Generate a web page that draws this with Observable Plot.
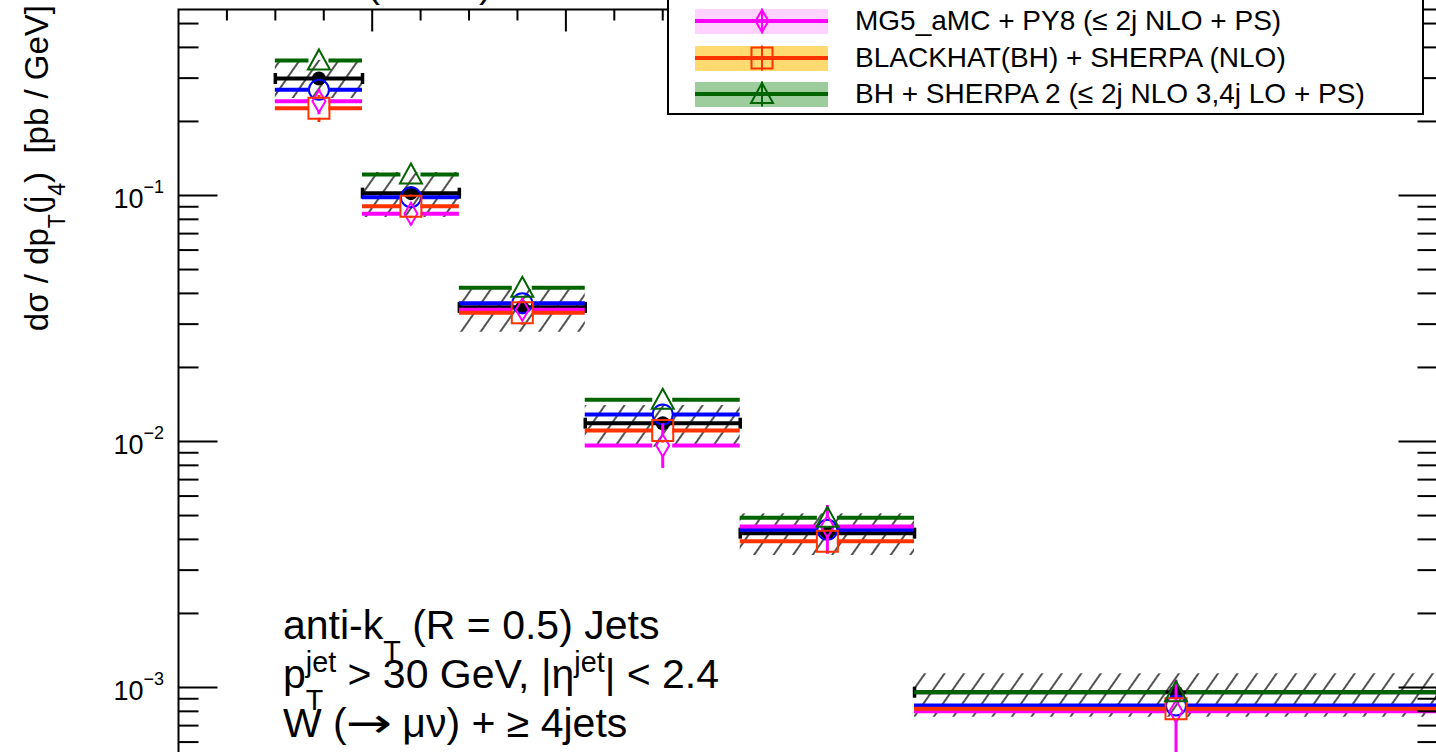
<!DOCTYPE html>
<html><head><meta charset="utf-8">
<script src="https://cdn.jsdelivr.net/npm/d3@7"></script>
<script src="https://cdn.jsdelivr.net/npm/@observablehq/plot@0.6"></script>
<style>
html,body{margin:0;padding:0;background:#fff;}
#wrap{position:relative;width:1436px;height:752px;overflow:hidden;font-family:"Liberation Sans",Arial,Helvetica,sans-serif;color:#000;}
.txt{position:absolute;white-space:nowrap;}
.txt sub,.txt sup{font-size:0.7em;line-height:0;}
.txt sup{vertical-align:0.55em;}
.txt sub{vertical-align:-0.75em;}
.arrow{font-family:"DejaVu Sans",sans-serif;display:inline-block;transform:scaleX(1.35);margin:0 0.12em;line-height:0;}
.legendbox{position:absolute;background:#fff;border:2px solid #000;box-sizing:border-box;}
.swatch{position:absolute;}
.swline{position:absolute;left:0;right:0;}
</style></head>
<body><div id="wrap"></div>
<script>
// ---- bins (pT of 4th jet, GeV) ----
const binLo = [30, 39, 49, 62, 78, 96];
const binHi = [39, 49, 62, 78, 96, 150];

// ---- data (black) and its total-uncertainty band (hatched) ----
const dataVal    = [0.299, 0.1022, 0.0351, 0.01187, 0.00424, 0.000957];
const dataBandLo = [0.248, 0.0814, 0.0278, 0.00948, 0.00344, 0.000757];
const dataBandHi = [0.354, 0.124,  0.0414, 0.0140,  0.00508, 0.001137];

// ---- predictions ----
const mgLO   = [0.269, 0.0984, 0.0365, 0.01288, 0.004375, 0.000845];   // blue
const mgNLO  = [0.2416, 0.0843, 0.0343, 0.00963, 0.004512, 0.000801];  // magenta
const mgNLOLo = [0.213, 0.0755, 0.0310, 0.00777, 0.00348, 0.00045];
const mgNLOHi = [0.270, 0.093,  0.0380, 0.0118,  0.00549, 0.00107];
const bh     = [0.2264, 0.0905, 0.03335, 0.01108, 0.003932, 0.000819]; // orange-red
const bhLo   = [0.198, 0.0805, 0.0297, 0.00985, 0.00350, null];
const bhHi   = [0.255, 0.1005, 0.0370, 0.0123,  0.00435, null];
const bhS2   = [0.354, 0.1217, 0.04215, 0.01477, 0.004895, 0.000957];  // dark green

// ---- axis ticks ----
const yMajorTicks = [1e-1, 1e-2, 1e-3];
const yTickExp = ["\u22121", "\u22122", "\u22123"];
const yMinorTicks = [0.5, 0.4, 0.3, 0.2,
  0.09, 0.08, 0.07, 0.06, 0.05, 0.04, 0.03, 0.02,
  0.009, 0.008, 0.007, 0.006, 0.005, 0.004, 0.003, 0.002,
  0.0009, 0.0008, 0.0007, 0.0006];
const xMajorTicks = [40, 60, 80, 100, 120, 140];
const xMinorTicks = [25, 30, 35, 45, 50, 55, 65, 70, 75, 85, 90, 95, 105, 110, 115, 125, 130, 135, 145];

// ---- legend text (visible rows) ----
const legendLabels = ["MG5_aMC + PY8 (\u2264 2j NLO + PS)", "BLACKHAT(BH) + SHERPA (NLO)", "BH + SHERPA 2 (\u2264 2j NLO 3,4j LO + PS)"];

// ---------------------------------------------------------------
const FONT = "Liberation Sans, Arial, Helvetica, sans-serif";
const circleSym   = {draw(c){ c.moveTo(10,0); c.arc(0,0,10,0,2*Math.PI); }};
const diamondSym  = {draw(c){ c.moveTo(0,-11); c.lineTo(6.5,0); c.lineTo(0,11); c.lineTo(-6.5,0); c.closePath(); }};
const squareSym   = {draw(c){ c.rect(-10.5,-10.5,21,21); }};
const triangleSym = {draw(c){ c.moveTo(0,-11); c.lineTo(11,9); c.lineTo(-11,9); c.closePath(); }};
const capSym      = {draw(c){ c.moveTo(0,-5.5); c.lineTo(0,5.5); }};
const tickR = L => ({draw(c){ c.moveTo(0,0); c.lineTo(L,0); }});
const tickL = L => ({draw(c){ c.moveTo(0,0); c.lineTo(-L,0); }});
const tickD = L => ({draw(c){ c.moveTo(0,0); c.lineTo(0,L); }});

const rows = binLo.map((lo, i) => ({
  lo, hi: binHi[i], mid: (lo + binHi[i]) / 2,
  data: dataVal[i], bandLo: dataBandLo[i], bandHi: dataBandHi[i]
}));

const series = [
  {values: mgLO,  color: "#0000ff", symbol: circleSym},
  {values: mgNLO, lo: mgNLOLo, hi: mgNLOHi, color: "#ff00ff", symbol: diamondSym},
  {values: bh,    lo: bhLo, hi: bhHi, color: "#ff3300", symbol: squareSym},
  {values: bhS2,  color: "#006400", symbol: triangleSym}
].map(s => ({...s, rows: binLo.map((lo, i) => ({
  lo, hi: binHi[i], mid: (lo + binHi[i]) / 2, v: s.values[i],
  eLo: s.lo ? s.lo[i] : null, eHi: s.hi ? s.hi[i] : null
}))}));

const GAP = 10;
const marks = [];
marks.push(Plot.rect(rows, {x1: "lo", x2: "hi", y1: "bandLo", y2: "bandHi", fill: "url(#hatch)"}));
marks.push(Plot.ruleY(rows, {x1: "lo", x2: "hi", y: "data", stroke: "#000", strokeWidth: 4}));
marks.push(Plot.dot(rows, {x: "lo", y: "data", symbol: capSym, stroke: "#000", strokeWidth: 3.5, fill: "none"}));
marks.push(Plot.dot(rows, {x: "hi", y: "data", symbol: capSym, stroke: "#000", strokeWidth: 3.5, fill: "none"}));
for (const s of series) {
  marks.push(Plot.ruleY(s.rows, {x1: "lo", x2: "mid", y: "v", insetRight: GAP, stroke: s.color, strokeWidth: 4}));
  marks.push(Plot.ruleY(s.rows, {x1: "mid", x2: "hi", y: "v", insetLeft: GAP, stroke: s.color, strokeWidth: 4}));
}
marks.push(Plot.dot(rows, {x: "mid", y: "data", r: 7, fill: "#000", stroke: "none"}));
for (const s of series) {
  const er = s.rows.filter(d => d.eLo != null);
  if (er.length) {
    marks.push(Plot.ruleX(er, {x: "mid", y1: "v", y2: "eLo", insetTop: GAP, stroke: s.color, strokeWidth: 3}));
    marks.push(Plot.ruleX(er, {x: "mid", y1: "eHi", y2: "v", insetBottom: GAP, stroke: s.color, strokeWidth: 3}));
  }
  marks.push(Plot.dot(s.rows, {x: "mid", y: "v", symbol: s.symbol, stroke: s.color, strokeWidth: 2, fill: "none"}));
}
marks.push(Plot.frame({stroke: "#000", strokeWidth: 2}));
marks.push(Plot.dot(yMajorTicks, {y: d => d, frameAnchor: "left", symbol: tickR(39), stroke: "#000", strokeWidth: 2, fill: "none"}));
marks.push(Plot.dot(yMinorTicks, {y: d => d, frameAnchor: "left", symbol: tickR(20), stroke: "#000", strokeWidth: 2, fill: "none"}));
marks.push(Plot.dot(yMajorTicks, {y: d => d, frameAnchor: "right", symbol: tickL(39), stroke: "#000", strokeWidth: 2, fill: "none"}));
marks.push(Plot.dot(yMinorTicks, {y: d => d, frameAnchor: "right", symbol: tickL(20), stroke: "#000", strokeWidth: 2, fill: "none"}));
marks.push(Plot.dot(xMajorTicks, {x: d => d, frameAnchor: "top", symbol: tickD(22), stroke: "#000", strokeWidth: 2, fill: "none"}));
marks.push(Plot.dot(xMinorTicks, {x: d => d, frameAnchor: "top", symbol: tickD(11), stroke: "#000", strokeWidth: 2, fill: "none"}));
marks.push(Plot.text(yMajorTicks, {y: d => d, frameAnchor: "left", text: () => "10", textAnchor: "end", dx: -35, dy: 4, fontSize: 27, fontFamily: FONT, fill: "#000"}));
marks.push(Plot.text(yMajorTicks, {y: d => d, frameAnchor: "left", text: (d, i) => yTickExp[i], textAnchor: "start", dx: -35, dy: -8, fontSize: 18, fontFamily: FONT, fill: "#000"}));

const chart = Plot.plot({
  width: 1436, height: 752,
  marginLeft: 178, marginRight: -1, marginTop: 9, marginBottom: -60,
  x: {domain: [20, 150], range: [178, 1437], axis: null},
  y: {type: "log", domain: [1e-3, 1e-1], range: [687, 195], axis: null},
  style: {fontFamily: FONT, background: "#fff", overflow: "visible"},
  marks
});

const defs = d3.select(chart).insert("defs", ":first-child");
const pat = defs.append("pattern").attr("id", "hatch").attr("patternUnits", "userSpaceOnUse")
  .attr("width", 16).attr("height", 16).attr("patternTransform", "rotate(35)");
pat.append("line").attr("x1", 8).attr("y1", -2).attr("x2", 8).attr("y2", 18)
  .attr("stroke", "#333").attr("stroke-width", 1.7);

const wrap = document.getElementById("wrap");
chart.style.position = "absolute"; chart.style.left = "0px"; chart.style.top = "0px";
wrap.appendChild(chart);

function addText(html, css) {
  const d = document.createElement("div");
  d.className = "txt";
  d.innerHTML = html;
  Object.assign(d.style, css);
  wrap.appendChild(d);
  return d;
}

// partially visible header above the frame
addText("(8 TeV)", {left: "367px", top: "-36px", fontSize: "39px", lineHeight: "39px"});

// y-axis title (rotated)
addText("d\u03c3 / dp<sub>T</sub>(j<sub>4</sub>)&nbsp;&nbsp;[pb / GeV]", {
  left: "20px", top: "405px", width: "400px", textAlign: "right", fontSize: "33px", lineHeight: "33px",
  transformOrigin: "0 0", transform: "rotate(-90deg)"
});

// annotation
const annFS = 41;
const annBase = [640, 689, 738];
const annLines = [
  "anti-k<sub>T</sub> (R = 0.5) Jets",
  "p<span class='stk'><sup>jet</sup><sub>T</sub></span> &gt; 30 GeV, |\u03b7<sup>jet</sup>| &lt; 2.4",
  "W (<span class='arrow'>\u2192</span> \u03bc\u03bd) + \u2265 4jets"
];
annLines.forEach((h, i) => addText(h, {left: "283px", top: (annBase[i] - 0.8465 * annFS) + "px", fontSize: annFS + "px", lineHeight: annFS + "px"}));
document.querySelectorAll(".stk").forEach(st => {
  const sp = st.querySelector("sup"), sb = st.querySelector("sub");
  const w1 = sp.getBoundingClientRect().width, w2 = sb.getBoundingClientRect().width;
  sb.style.marginLeft = (-w1) + "px";
  if (w1 > w2) sb.style.marginRight = (w1 - w2) + "px";
});

// legend
const lb = document.createElement("div");
lb.className = "legendbox";
Object.assign(lb.style, {left: "667px", top: "-60px", width: "757px", height: "175px"});
wrap.appendChild(lb);
const legendStyle = [
  {band: "#ffd2ff", line: "#ff00ff", sym: "diamond"},
  {band: "#ffda70", line: "#ff3300", sym: "square"},
  {band: "#9dcd9d", line: "#006400", sym: "triangle"}
];
const rowY = [21, 58, 94];
const symPath = {
  diamond: "M15,4 L21.5,15 L15,26 L8.5,15 Z",
  square: "M4.5,4.5 H25.5 V25.5 H4.5 Z",
  triangle: "M15,4 L26,24 L4,24 Z"
};
legendLabels.forEach((lab, i) => {
  const st = legendStyle[i], y = rowY[i];
  const sw = document.createElement("div");
  sw.className = "swatch";
  Object.assign(sw.style, {left: "695px", top: (y - 12.5) + "px", width: "133px", height: "25px", background: st.band});
  const ln = document.createElement("div");
  ln.className = "swline";
  Object.assign(ln.style, {top: "10.5px", height: "4px", background: st.line});
  sw.appendChild(ln);
  wrap.appendChild(sw);
  const svgNS = "http://www.w3.org/2000/svg";
  const sv = document.createElementNS(svgNS, "svg");
  sv.setAttribute("width", 30); sv.setAttribute("height", 30);
  Object.assign(sv.style, {position: "absolute", left: (762 - 15) + "px", top: (y - 15) + "px", overflow: "visible"});
  const vl = document.createElementNS(svgNS, "line");
  vl.setAttribute("x1", 15); vl.setAttribute("x2", 15); vl.setAttribute("y1", 2.5); vl.setAttribute("y2", 27.5);
  vl.setAttribute("stroke", st.line); vl.setAttribute("stroke-width", 2);
  sv.appendChild(vl);
  const p = document.createElementNS(svgNS, "path");
  p.setAttribute("d", symPath[st.sym]); p.setAttribute("fill", "none");
  p.setAttribute("stroke", st.line); p.setAttribute("stroke-width", 2);
  sv.appendChild(p);
  wrap.appendChild(sv);
  addText(lab, {left: "855px", top: (y - 14) + "px", fontSize: "28px", lineHeight: "28px"});
});
</script></body></html>
